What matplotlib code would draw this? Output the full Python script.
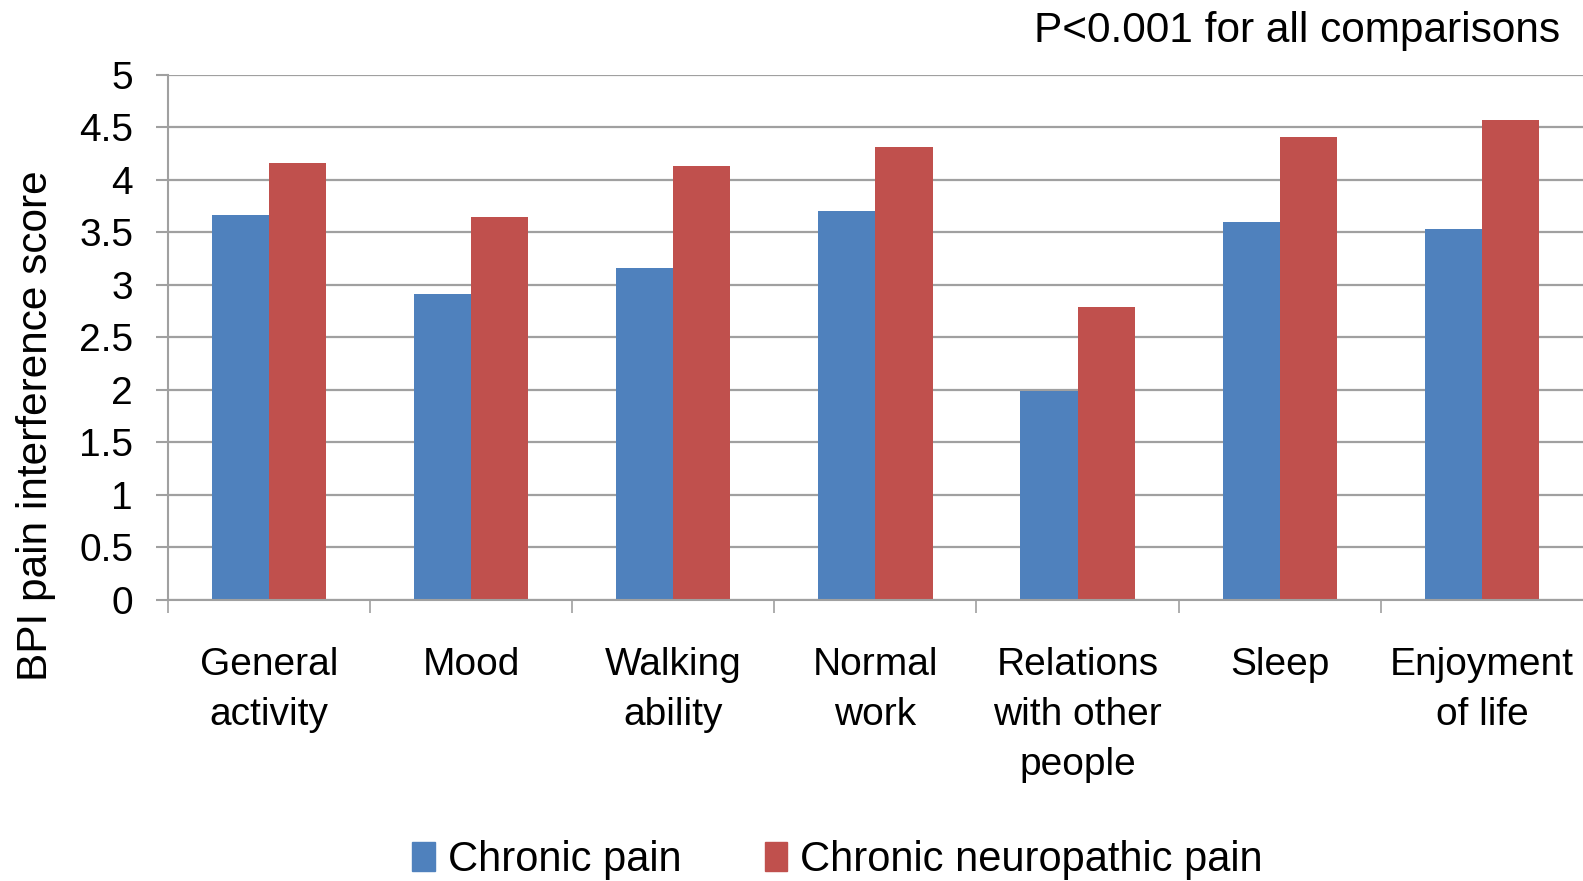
import matplotlib.pyplot as plt
import numpy as np
from matplotlib.patches import Patch

categories = ['General\nactivity', 'Mood', 'Walking\nability', 'Normal\nwork',
              'Relations\nwith other\npeople', 'Sleep', 'Enjoyment\nof life']
chronic_pain = [3.67, 2.91, 3.16, 3.70, 1.99, 3.60, 3.53]
neuropathic_pain = [4.16, 3.65, 4.13, 4.31, 2.79, 4.41, 4.57]
series_names = ['Chronic pain', 'Chronic neuropathic pain']
y_ticks = [0, 0.5, 1, 1.5, 2, 2.5, 3, 3.5, 4, 4.5, 5]
y_tick_labels = ['0', '0.5', '1', '1.5', '2', '2.5', '3', '3.5', '4', '4.5', '5']

blue = '#4F81BD'
red = '#C0504D'
grey = '#A0A0A0'

plt.rcParams['font.family'] = ['Liberation Sans', 'DejaVu Sans']

fig = plt.figure(figsize=(15.83, 8.81), dpi=100)
ax = fig.add_axes([0.106, 0.319, 0.894, 0.596])

x = np.arange(len(categories))
width = 0.283
ax.bar(x - width / 2, chronic_pain, width, color=blue)
ax.bar(x + width / 2, neuropathic_pain, width, color=red)

ax.set_xlim(-0.5, len(categories) - 0.5)
ax.set_ylim(0, 5)
ax.set_yticks(y_ticks)
ax.set_yticklabels(y_tick_labels, fontsize=28)
ax.set_xticks(x)
ax.set_xticklabels(categories, fontsize=28, linespacing=1.5)
ax.set_xticks(np.arange(-0.5, len(categories) - 1), minor=True)

ax.tick_params(axis='x', which='major', length=0, pad=34)
ax.tick_params(axis='x', which='minor', length=9, width=1.2, color=grey)
ax.tick_params(axis='y', length=9, width=1.5, color=grey, pad=16)

ax.grid(axis='y', color=grey, linewidth=1.6)
ax.set_axisbelow(True)
for side in ['top', 'right']:
    ax.spines[side].set_visible(False)
for side in ['left', 'bottom']:
    ax.spines[side].set_color(grey)
    ax.spines[side].set_linewidth(1.5)

fig.text(0.023, 0.517, 'BPI pain interference score', rotation=90,
         ha='center', va='center', fontsize=30.5)
fig.text(0.9855, 0.965, 'P<0.001 for all comparisons', ha='right',
         va='center', fontsize=30.5)

handles = [Patch(color=blue), Patch(color=red)]
fig.legend(handles, series_names, loc='center', bbox_to_anchor=(0.529, 0.024),
           ncol=2, frameon=False, fontsize=30, handlelength=0.55,
           handleheight=0.7, handletextpad=0.3, columnspacing=2.0)

fig.savefig('out.png', dpi=100)
